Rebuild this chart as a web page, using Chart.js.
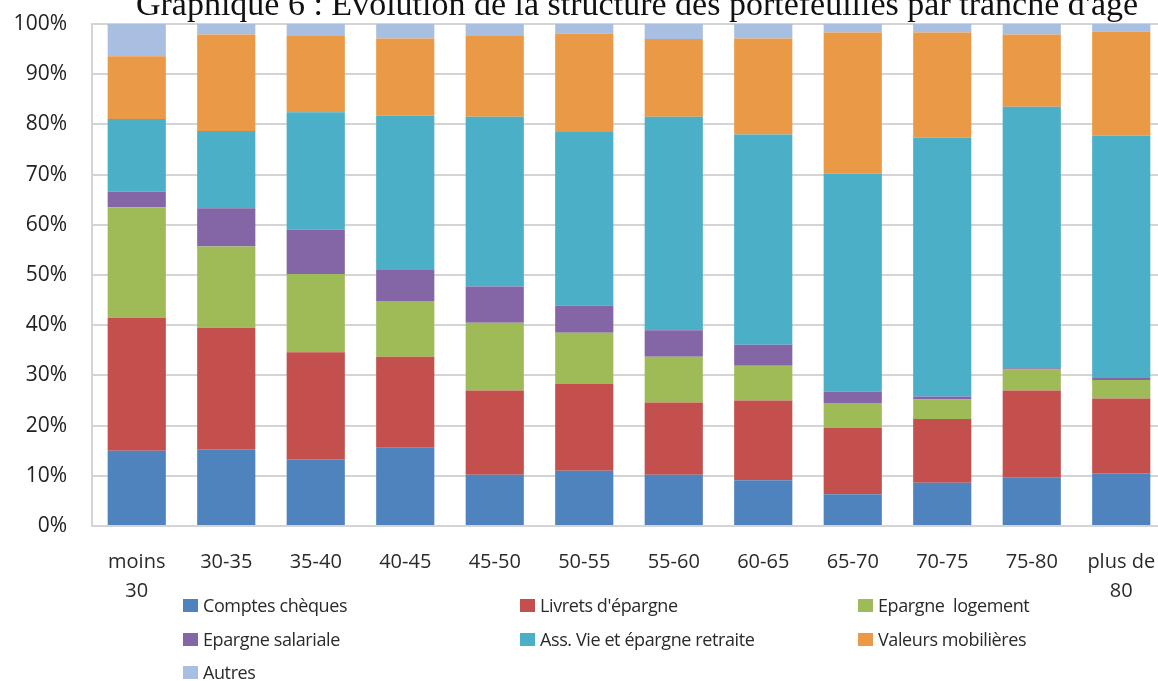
<!DOCTYPE html>
<html lang="fr">
<head>
<meta charset="utf-8">
<title>Structure des portefeuilles par tranche d'âge</title>
<script src="https://cdn.jsdelivr.net/npm/chart.js@4.4.1/dist/chart.umd.min.js"></script>
<style>
  html, body { margin: 0; padding: 0; background: #fff; overflow: hidden; }
  #wrap { position: relative; width: 1170px; height: 681px; }
  #legend { position: absolute; left: 0; top: 0; width: 1158px; height: 681px; pointer-events: none;
            font-family: "Open Sans", sans-serif; font-size: 18px; color: #2a2a2a; letter-spacing: -0.4px; }
  .item { position: absolute; display: flex; align-items: center; white-space: nowrap; }
  .box { width: 15px; height: 13px; margin-right: 5px; }
</style>
</head>
<body>
<div id="wrap">
  <canvas id="chart"></canvas>
  <div id="legend"></div>
</div>
<script>
// Tranches d'âge (libellés sur deux lignes quand nécessaire)
const categories = [['moins', '30'], '30-35', '35-40', '40-45', '45-50', '50-55', '55-60', '60-65', '65-70', '70-75', '75-80', ['plus de', '80']];

// Part de chaque placement dans le portefeuille (%)
const comptesCheques    = [15.0, 15.3, 13.3, 15.6, 10.2, 11.0, 10.2, 9.1, 6.3, 8.6, 9.6, 10.5];
const livretsEpargne    = [26.5, 24.2, 21.3, 18.1, 16.8, 17.3, 14.4, 15.9, 13.2, 12.7, 17.4, 14.9];
const epargneLogement   = [22.0, 16.2, 15.6, 11.1, 13.5, 10.2, 9.1, 6.9, 5.0, 3.9, 4.2, 3.7];
const epargneSalariale  = [3.1, 7.6, 8.8, 6.2, 7.2, 5.4, 5.3, 4.2, 2.3, 0.6, 0.2, 0.4];
const assVieRetraite    = [14.5, 15.4, 23.4, 30.7, 33.8, 34.6, 42.5, 41.9, 43.4, 51.6, 52.1, 48.3];
const valeursMobilieres = [12.5, 19.2, 15.2, 15.4, 16.1, 19.6, 15.5, 19.1, 28.1, 20.9, 14.4, 20.7];
const autres            = [6.4, 2.1, 2.4, 2.9, 2.4, 1.9, 3.0, 2.9, 1.7, 1.7, 2.1, 1.5];

const seriesNames = ['Comptes chèques', "Livrets d'épargne", 'Epargne  logement', 'Epargne salariale',
                     'Ass. Vie et épargne retraite', 'Valeurs mobilières', 'Autres'];
const seriesValues = [comptesCheques, livretsEpargne, epargneLogement, epargneSalariale,
                      assVieRetraite, valeursMobilieres, autres];
const seriesColors = ['#4F83BE', '#C3504D', '#9EBB58', '#8466A6', '#4AAFC7', '#EA9A47', '#A8BFE1'];

const yTicks = [0, 10, 20, 30, 40, 50, 60, 70, 80, 90, 100];

const titleText = "Graphique 6 : Evolution de la structure des portefeuilles par tranche d'âge";

// Titre dessiné en serif, centré au-dessus du graphique
const titlePlugin = {
  id: 'serifTitle',
  afterDraw(chart) {
    const ctx = chart.ctx;
    ctx.save();
    ctx.font = '34px "Liberation Serif", serif';
    ctx.fillStyle = '#111';
    ctx.textAlign = 'center';
    ctx.textBaseline = 'alphabetic';
    ctx.fillText(titleText, 637, 15);
    ctx.restore();
  }
};

const datasets = seriesNames.map((name, i) => ({
  label: name,
  data: seriesValues[i],
  backgroundColor: seriesColors[i],
  borderWidth: 0,
  categoryPercentage: 1.0,
  barPercentage: 0.65
}));

const chart = new Chart(document.getElementById('chart'), {
  type: 'bar',
  data: { labels: categories, datasets },
  plugins: [titlePlugin],
  options: {
    responsive: true,
    maintainAspectRatio: false,
    animation: false,
    layout: { padding: { top: 24, right: 4, left: 0, bottom: 0 } },
    plugins: {
      legend: { display: false },
      title: { display: false },
      tooltip: { enabled: false }
    },
    scales: {
      x: {
        stacked: true,
        grid: { display: false },
        border: { display: true, color: '#D4D4D4', width: 2 },
        ticks: {
          color: '#2a2a2a',
          font: { family: '"Open Sans", sans-serif', size: 20, lineHeight: 1.45 },
          padding: 14,
          maxRotation: 0,
          autoSkip: false
        },
        afterFit(scale) { scale.height = 155; scale.paddingLeft = 0; scale.paddingRight = 0; }
      },
      y: {
        stacked: true,
        min: 0,
        max: 100,
        afterBuildTicks(scale) { scale.ticks = yTicks.map(v => ({ value: v })); },
        grid: { color: '#D4D4D4', lineWidth: 2, drawTicks: false },
        border: { display: true, color: '#D4D4D4', width: 2 },
        ticks: {
          color: '#222',
          font: { family: '"Open Sans", sans-serif', size: 21 },
          padding: 25,
          callback: v => v + '%'
        },
        afterFit(scale) { scale.width = 92; scale.paddingTop = 0; scale.paddingBottom = 0; }
      }
    }
  }
});

// Légende sur trois colonnes, construite à partir des séries
const legendCols = [183, 520, 858];
const legendRows = [605, 639, 672];
const legendEl = document.getElementById('legend');
seriesNames.forEach((name, i) => {
  const item = document.createElement('div');
  item.className = 'item';
  item.style.left = legendCols[i % 3] + 'px';
  item.style.top = (legendRows[Math.floor(i / 3)] - 13) + 'px';
  item.style.height = '26px';
  const box = document.createElement('span');
  box.className = 'box';
  box.style.background = seriesColors[i];
  const txt = document.createElement('span');
  txt.textContent = name.replace('  ', '\u00a0\u00a0');
  item.appendChild(box);
  item.appendChild(txt);
  legendEl.appendChild(item);
});
</script>
</body>
</html>
